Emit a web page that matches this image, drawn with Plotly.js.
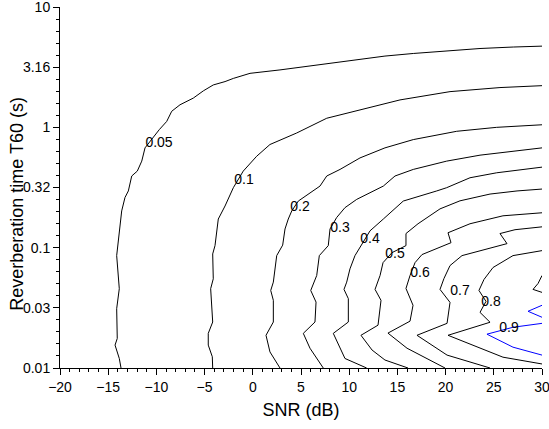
<!DOCTYPE html>
<html><head><meta charset="utf-8">
<script src="https://cdn.plot.ly/plotly-3.0.1.min.js"></script>
<style>html,body{margin:0;padding:0;background:#fff}#chart{width:549px;height:429px}</style>
</head><body><div id="chart"></div>
<script>
// Contour level 0.05
const snr_005 = [-13.67,-13.85,-14.29,-14.06,-14.12,-13.85,-14.12,-13.78,-13.60,-13.26,-12.91,-12.56,-11.98,-11.52,-11.18,-9.70,-8.93,-8.41,-7.55,-6.17,-5.13,-4.10,-2.88,-2.02,-0.29,2.82,5.24,8.01,11.12,13.71,16.65,20.11,23.57,27.02,30];
const t60_005 = [0.01,0.0120,0.0155,0.0176,0.0311,0.0456,0.0859,0.143,0.202,0.261,0.296,0.394,0.433,0.524,0.675,0.957,1.12,1.36,1.54,1.75,2.01,2.25,2.40,2.55,2.81,3.00,3.19,3.40,3.70,3.91,4.11,4.33,4.52,4.65,4.73];
// 0.1
const snr_01 = [-4.16,-4.20,-4.62,-4.62,-4.16,-4.37,-4.10,-4.16,-3.92,-3.58,-2.88,-2.02,-0.99,0.40,1.78,4.55,7.67,11.12,15.27,20.46,25.64,30];
const t60_01 = [0.01,0.0124,0.0155,0.0194,0.0241,0.0456,0.0551,0.0887,0.104,0.173,0.222,0.315,0.433,0.575,0.720,0.897,1.19,1.40,1.69,1.98,2.14,2.22];
// 0.2
const snr_02 = [2.82,1.78,1.37,2.13,2.13,1.86,2.13,2.30,2.48,3.10,3.34,3.68,4.04,4.72,5.76,6.97,7.67,9.05,11.12,13.71,16.65,21.15,25.30,30];
const t60_02 = [0.01,0.0136,0.0187,0.0241,0.0365,0.0441,0.0517,0.0667,0.0859,0.105,0.143,0.173,0.202,0.244,0.278,0.325,0.394,0.447,0.557,0.675,0.791,0.927,1.0,1.05];
// 0.3
const snr_03 = [7.31,5.93,5.24,6.45,6.56,6.01,6.63,6.90,7.83,8.01,8.70,9.56,10.78,12.16,13.54,14.75,16.65,20.11,23.57,30];
const t60_03 = [0.01,0.0146,0.0194,0.0241,0.0353,0.0441,0.0587,0.0859,0.104,0.143,0.178,0.215,0.252,0.286,0.325,0.394,0.447,0.524,0.587,0.675];
// 0.4
const snr_04 = [11.81,9.56,8.35,9.91,9.91,9.46,9.74,10.08,10.60,11.46,12.16,13.54,15.61,19.08,20.11,22.53,25.30,30];
const t60_04 = [0.01,0.0120,0.0194,0.0241,0.0377,0.0450,0.0517,0.0667,0.0859,0.111,0.138,0.173,0.244,0.296,0.315,0.381,0.419,0.467];
// 0.5
const snr_05 = [16.10,13.71,12.37,11.22,12.99,13.30,12.68,13.20,13.51,14.44,15.89,15.89,17.14,19.42,21.49,24.61,27.41,30];
const t60_05 = [0.01,0.01165,0.0141,0.0187,0.0227,0.0365,0.0450,0.0587,0.0751,0.0909,0.104,0.131,0.158,0.210,0.245,0.279,0.296,0.307];
// 0.6
const snr_06 = [19.94,16.00,14.02,16.31,16.62,15.89,16.31,16.83,17.55,20.56,20.25,22.53,25.95,30];
const t60_06 = [0.01,0.0146,0.0195,0.0245,0.0332,0.0458,0.0587,0.0751,0.0876,0.110,0.133,0.158,0.184,0.195];
// 0.7
const snr_07 = [24.61,20.15,17.03,20.15,20.46,19.42,19.83,20.46,21.70,26.37,25.64,27.20,30];
const t60_07 = [0.01,0.0128,0.0187,0.0235,0.0351,0.0450,0.0554,0.0710,0.0859,0.108,0.131,0.141,0.149];
// 0.8 (main piece and small piece at the right edge)
const snr_08 = [30,25.95,20.25,24.61,23.57,24.19,23.46,23.98,24.92,26.99,30];
const t60_08 = [0.0108,0.0123,0.0187,0.0240,0.0290,0.0358,0.0441,0.0544,0.0684,0.0859,0.0945];
const snr_08b = [30,29.59,29.07,30];
const t60_08b = [0.0587,0.0504,0.0450,0.0425];
// 0.9 (blue)
const snr_09 = [30,26.99,24.29,26.99,30];
const t60_09 = [0.0235,0.0218,0.0191,0.0149,0.0128];
const snr_09b = [30,28.55,30];
const t60_09b = [0.0332,0.0296,0.0264];

// contour labels
const labelText = ["0.05","0.1","0.2","0.3","0.4","0.5","0.6","0.7","0.8","0.9"];
const labelSnr = [-9.73,-0.91,4.90,9.05,12.16,14.75,17.34,21.49,24.71,26.58];
const labelT60 = [0.738,0.365,0.214,0.1436,0.1164,0.0875,0.0610,0.0433,0.0351,0.0214];

// axes
const xTickVals = [-20,-15,-10,-5,0,5,10,15,20,25,30];
const yTickVals = [0.01,0.0316,0.1,0.316,1,3.16,10];
const yTickText = ["0.01","0.03","0.1","0.32","1","3.16","10"];

const FONT = "Liberation Sans, Arial, Helvetica, sans-serif";

const black = [[snr_005,t60_005],[snr_01,t60_01],[snr_02,t60_02],[snr_03,t60_03],[snr_04,t60_04],
               [snr_05,t60_05],[snr_06,t60_06],[snr_07,t60_07],[snr_08,t60_08],[snr_08b,t60_08b]];
const blue = [[snr_09,t60_09],[snr_09b,t60_09b]];

const traces = [];
black.forEach(p => traces.push({x:p[0], y:p[1], type:'scatter', mode:'lines',
  line:{color:'#000000', width:1}, hoverinfo:'skip', showlegend:false}));
blue.forEach(p => traces.push({x:p[0], y:p[1], type:'scatter', mode:'lines',
  line:{color:'#0000ff', width:1}, hoverinfo:'skip', showlegend:false}));
traces.push({x:labelSnr, y:labelT60, text:labelText, type:'scatter', mode:'text',
  textposition:'middle center', textfont:{family:FONT, size:14, color:'#000'},
  hoverinfo:'skip', showlegend:false, cliponaxis:false});

const minorY = [];
for (let k = -20; k <= 10; k++) { if (k % 5 !== 0) minorY.push(Math.pow(10, k/10)); }

const layout = {
  width:549, height:429,
  margin:{l:60, r:7, t:7, b:61},
  paper_bgcolor:'#fff', plot_bgcolor:'#fff',
  font:{family:FONT, size:14, color:'#000'},
  xaxis:{range:[-20,30], tickmode:'array', tickvals:xTickVals,
    ticks:'outside', ticklen:6, tickwidth:1, tickcolor:'#000',
    showline:true, linecolor:'#000', linewidth:1, mirror:false,
    showgrid:false, zeroline:false, ticklabeloverflow:'allow',
    minor:{dtick:1, ticks:'outside', ticklen:3, tickwidth:1, tickcolor:'#000', showgrid:false},
    tickfont:{family:FONT, size:14, color:'#000'},
    title:{text:'SNR (dB)', font:{family:FONT, size:18, color:'#000'}, standoff:9},
    automargin:false},
  yaxis:{type:'log', range:[-2,1], tickmode:'array', tickvals:yTickVals, ticktext:yTickText,
    ticks:'outside', ticklen:6, tickwidth:1, tickcolor:'#000',
    showline:true, linecolor:'#000', linewidth:1, mirror:false,
    showgrid:false, zeroline:false, ticklabeloverflow:'allow',
    minor:{tickmode:'array', tickvals:minorY, ticks:'outside', ticklen:3, tickwidth:1, tickcolor:'#000', showgrid:false},
    tickfont:{family:FONT, size:14, color:'#000'},
    automargin:false},
  annotations:[{text:'Reverberation time T60 (s)', xref:'paper', yref:'paper',
    x:-0.089, y:0.455, xanchor:'center', yanchor:'middle', textangle:-90, showarrow:false,
    font:{family:FONT, size:18, color:'#000'}}]
};

Plotly.newPlot('chart', traces, layout, {staticPlot:true, displayModeBar:false});
</script>
</body></html>
